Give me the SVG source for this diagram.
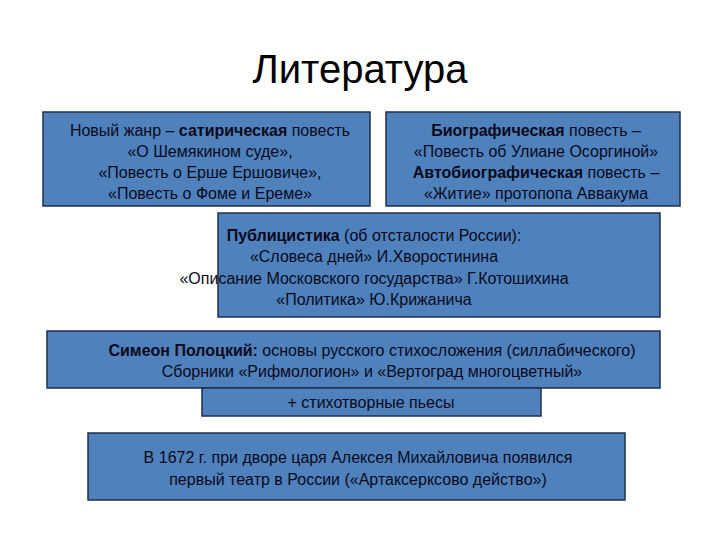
<svg xmlns="http://www.w3.org/2000/svg" width="720" height="540" viewBox="0 0 720 540">
<style>
.b{fill:#4f81bd;stroke:#1f2f4a;stroke-width:1.5}
text{font-family:"Liberation Sans","DejaVu Sans",sans-serif;font-size:16px;fill:#0a0a1a;text-anchor:middle}
.t{font-size:40px;fill:#000}
.s{font-weight:bold}
</style>
<rect width="720" height="540" fill="#fff"/>
<text class="t" x="360" y="83">Литература</text>
<g id="n1"><rect class="b" x="43" y="112" width="327" height="94"/>
<text x="210" y="136">Новый жанр – <tspan class="s">сатирическая</tspan> повесть</text>
<text x="210" y="157">«О Шемякином суде»,</text>
<text x="210" y="178">«Повесть о Ерше Ершовиче»,</text>
<text x="210" y="199">«Повесть о Фоме и Ереме»</text></g>
<g id="n2"><rect class="b" x="386" y="112" width="294" height="94"/>
<text x="536" y="136"><tspan class="s">Биографическая</tspan> повесть –</text>
<text x="536" y="157">«Повесть об Улиане Осоргиной»</text>
<text x="536" y="178"><tspan class="s">Автобиографическая</tspan> повесть –</text>
<text x="536" y="199">«Житие» протопопа Аввакума</text></g>
<g id="n3"><rect class="b" x="218" y="213" width="442" height="104"/>
<text x="374" y="241"><tspan class="s">Публицистика</tspan> (об отсталости России):</text>
<text x="374" y="262">«Словеса дней» И.Хворостинина</text>
<text x="374" y="284">«Описание Московского государства» Г.Котошихина</text>
<text x="374" y="305">«Политика» Ю.Крижанича</text></g>
<g id="n4"><rect class="b" x="47" y="331" width="613" height="57"/>
<text x="372" y="356"><tspan class="s">Симеон Полоцкий:</tspan> основы русского стихосложения (силлабического)</text>
<text x="372" y="377">Сборники «Рифмологион» и «Вертоград многоцветный»</text></g>
<g id="n5"><rect class="b" x="202" y="388" width="339" height="28"/>
<text x="371" y="408">+ стихотворные пьесы</text></g>
<g id="n6"><rect class="b" x="88" y="433" width="537" height="67"/>
<text x="358" y="463">В 1672 г. при дворе царя Алексея Михайловича появился</text>
<text x="358" y="485">первый театр в России («Артаксерксово действо»)</text></g>
<g id="connectors"/>
</svg>
